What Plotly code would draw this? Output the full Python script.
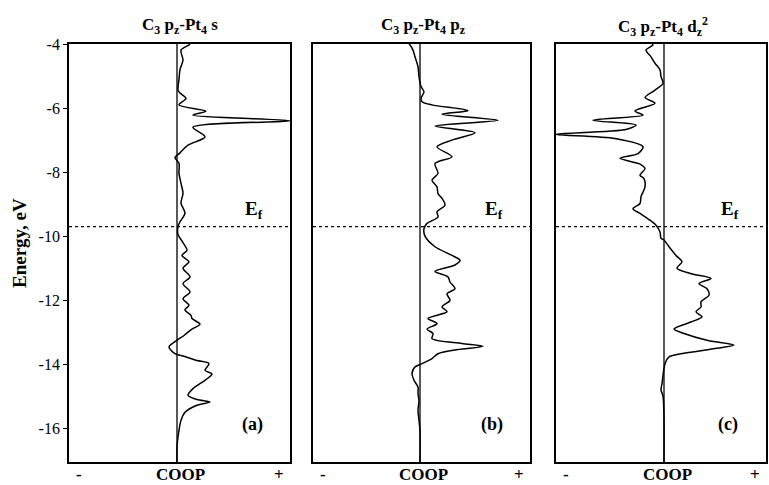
import plotly.graph_objects as go

# ---------------- data (energy in eV, COOP in arbitrary units) ----------------
energy_a = [-4.0, -4.03, -4.19, -4.5, -4.8, -5.1, -5.44, -5.53, -5.7, -5.9, -6.1, -6.22,
            -6.4, -6.6, -6.9, -7.16, -7.4, -7.55, -7.72, -8.04, -8.35, -8.66, -8.97, -9.28,
            -9.55, -9.7, -9.95, -10.2, -10.44, -10.6, -10.8, -11.0, -11.27, -11.48, -11.74,
            -11.95, -12.16, -12.3, -12.47, -12.57, -12.75, -12.9, -13.1, -13.25, -13.46,
            -13.67, -13.75, -13.88, -13.98, -14.19, -14.3, -14.5, -14.76, -14.97, -15.1,
            -15.18, -15.28, -15.5, -15.75, -16.06, -16.27, -16.58, -17.05]
coop_a = [13, 12, 4, 6, 3, 2, 1, 3, 9, 2, 29, 16,
          113, 16, 28, 11, 3, -2, 2, 2, 4, 6, 4, 8,
          3, 1, 1, 6, 10, 5, 12, 6, 13, 6, 13,
          6, 12, 8, 14, 15, 23, 15, 7, 0, -8,
          -2, 7, 20, 32, 28, 35, 28, 16, 11, 20,
          33, 20, 8, 4, 2, 1, 0, 0]

energy_b = [-4.0, -4.03, -4.19, -4.4, -4.71, -5.02, -5.33, -5.49, -5.7, -5.8, -5.9, -6.08,
            -6.19, -6.38, -6.56, -6.77, -7.0, -7.21, -7.52, -7.73, -8.04, -8.25, -8.46,
            -8.67, -8.82, -9.03, -9.24, -9.4, -9.6, -9.76, -10.0, -10.33, -10.6, -10.75,
            -10.9, -11.1, -11.27, -11.43, -11.64, -11.8, -12.0, -12.21, -12.36, -12.57,
            -12.73, -12.9, -13.04, -13.2, -13.35, -13.44, -13.54, -13.67, -13.82, -13.98,
            -14.08, -14.29, -14.5, -14.71, -14.92, -15.13, -15.44, -15.75, -16.06, -17.05]
coop_b = [-11, -10, -7, -5, -2, -1, 1, 4, 1, 2, 12, 48,
          22, 78, 15, 55, 32, 17, 32, 15, 18, 12, 17,
          18, 22, 25, 17, 18, 7, 4, 5, 15, 32, 40,
          35, 15, 28, 30, 35, 27, 30, 22, 27, 8,
          17, 7, 13, 12, 42, 63, 38, 18, 12, 2,
          -5, -8, -6, -2, -2, -1, -2, -1, 0, 0]

energy_c = [-4.0, -4.03, -4.19, -4.4, -4.6, -4.81, -5.02, -5.23, -5.44, -5.67, -5.85, -6.09,
            -6.22, -6.38, -6.53, -6.67, -6.82, -6.95, -7.21, -7.42, -7.57, -7.75, -7.89,
            -8.1, -8.2, -8.46, -8.77, -8.98, -9.14, -9.29, -9.5, -9.66, -9.87, -10.07,
            -10.12, -10.33, -10.6, -10.8, -11.0, -11.17, -11.32, -11.48, -11.64, -11.84,
            -12.05, -12.21, -12.36, -12.52, -12.68, -12.9, -13.04, -13.25, -13.4, -13.5,
            -13.67, -13.77, -13.98, -14.6, -14.8, -15.0, -15.65, -17.05]
coop_c = [-12, -11, -18, -13, -9, -4, -3, -1, -9, -19, -9, -29,
          -21, -71, -28, -38, -109, -49, -21, -26, -44, -24, -19,
          -24, -20, -19, -23, -24, -31, -24, -14, -8, -4, -3,
          0, 5, 12, 18, 13, 27, 47, 35, 43, 45,
          37, 37, 32, 38, 27, 10, 20, 43, 70, 53,
          17, 5, 1, -2, -3, -1, 0, 0]

titles = ["<b>C<sub>3</sub> p<sub>z</sub>-Pt<sub>4</sub> s</b>",
          "<b>C<sub>3</sub> p<sub>z</sub>-Pt<sub>4</sub> p<sub>z</sub></b>",
          "<b>C<sub>3</sub> p<sub>z</sub>-Pt<sub>4</sub> d<sub>z</sub><sup>2</sup></b>"]
panel_tags = ["<b>(a)</b>", "<b>(b)</b>", "<b>(c)</b>"]
energy_ticks = [-4, -6, -8, -10, -12, -14, -16]
energy_ticktext = ["-4", "-6", "-8", "-10", "-12", "-14", "-16"]
fermi_level = -9.7
y_range = [-17.05, -4.0]

# ---------------- layout geometry ----------------
W, H = 769, 485
FONT = "Liberation Serif"

def px_x(p):
    return p / W

def px_y(p):
    return 1 - p / H

panels = [  # left px, right px, center px
    (69, 290, 177),
    (313, 530, 420),
    (556, 766, 664),
]
y_top, y_bot = 44, 462

fig = go.Figure()
series = [(energy_a, coop_a), (energy_b, coop_b), (energy_c, coop_c)]

layout = dict(
    width=W, height=H,
    margin=dict(l=0, r=0, t=0, b=0, pad=0, autoexpand=False),
    paper_bgcolor="white", plot_bgcolor="white",
    showlegend=False,
    font=dict(family=FONT, color="black"),
)

shapes = []
annotations = []

for i, ((l, r, c), (en, co)) in enumerate(zip(panels, series)):
    sfx = "" if i == 0 else str(i + 1)
    xa, ya = "x" + sfx, "y" + sfx
    fig.add_trace(go.Scatter(x=co, y=en, mode="lines", line=dict(color="black", width=1.5, shape="spline", smoothing=0.8),
                             xaxis=xa, yaxis=ya, cliponaxis=True, hoverinfo="skip"))
    layout["xaxis" + sfx] = dict(domain=[px_x(l), px_x(r)], range=[l - c, r - c], anchor=ya,
                                 showgrid=False, zeroline=False, showticklabels=False, ticks="",
                                 showline=True, linecolor="black", linewidth=1.8, mirror=True,
                                 automargin=False, fixedrange=True)
    layout["yaxis" + sfx] = dict(domain=[px_y(y_bot), px_y(y_top)], range=y_range, anchor=xa,
                                 showgrid=False, zeroline=False, automargin=False, fixedrange=True,
                                 showline=True, linecolor="black", linewidth=1.8, mirror=True,
                                 showticklabels=(i == 0), ticks="outside" if i == 0 else "",
                                 tickvals=energy_ticks, ticktext=energy_ticktext, ticklen=4,
                                 tickcolor="black", tickfont=dict(family=FONT, size=16, color="black"))
    # zero COOP line
    shapes.append(dict(type="line", xref=xa, yref=ya + " domain", x0=0, x1=0, y0=0, y1=1,
                       line=dict(color="black", width=1.3)))
    # Fermi level
    shapes.append(dict(type="line", xref=xa + " domain", yref=ya, x0=0, x1=1, y0=fermi_level, y1=fermi_level,
                       line=dict(color="black", width=1.3, dash="dot")))
    # texts
    annotations.append(dict(text=titles[i], xref="paper", yref="paper", x=px_x((l + r) / 2 + (2 if i else 0)), y=px_y(26),
                            showarrow=False, font=dict(family=FONT, size=17, color="black"),
                            xanchor="center", yanchor="middle"))
    annotations.append(dict(text="<b>E<sub>f</sub></b>", xref="paper", yref="paper", x=px_x(r - 36), y=px_y(210),
                            showarrow=False, font=dict(family=FONT, size=19, color="black"),
                            xanchor="center", yanchor="middle"))
    annotations.append(dict(text=panel_tags[i], xref="paper", yref="paper", x=px_x(r - 38), y=px_y(424),
                            showarrow=False, font=dict(family=FONT, size=18, color="black"),
                            xanchor="center", yanchor="middle"))
    for label, xpos in (("<b>-</b>", l + 10), ("<b>COOP</b>", c + 3), ("<b>+</b>", r - 11)):
        annotations.append(dict(text=label, xref="paper", yref="paper", x=px_x(xpos), y=px_y(474),
                                showarrow=False, font=dict(family=FONT, size=17, color="black"),
                                xanchor="center", yanchor="middle", borderpad=0))

annotations.append(dict(text="<b>Energy, eV</b>", xref="paper", yref="paper", x=px_x(19), y=px_y(243),
                        textangle=-90, showarrow=False, font=dict(family=FONT, size=19, color="black"),
                        xanchor="center", yanchor="middle"))

layout["shapes"] = shapes
layout["annotations"] = annotations
fig.update_layout(**layout)
fig.write_html("out.html", config={"displayModeBar": False},
               post_script="document.body.style.margin='0px';document.body.style.overflow='hidden';")
